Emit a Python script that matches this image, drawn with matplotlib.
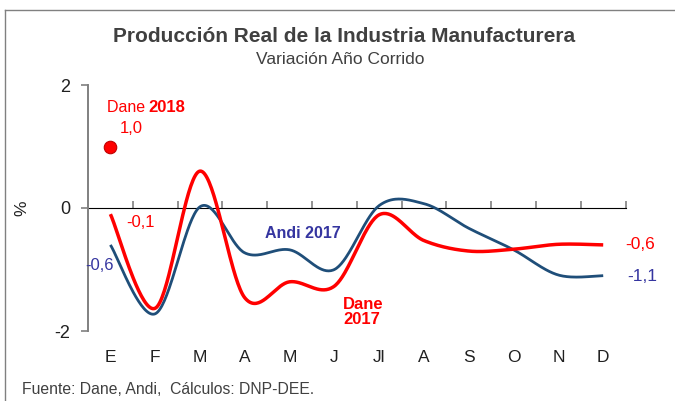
import matplotlib
matplotlib.use("Agg")
import matplotlib.pyplot as plt
from matplotlib.lines import Line2D
import numpy as np

plt.rcParams["font.family"] = ["Liberation Sans", "DejaVu Sans"]

MONTHS = ["E", "F", "M", "A", "M", "J", "Jl", "A", "S", "O", "N", "D"]
DANE_2017 = [-0.1, -1.63, 0.6, -1.46, -1.2, -1.27, -0.11, -0.53, -0.7, -0.67, -0.59, -0.6]
ANDI_2017 = [-0.6, -1.72, 0.02, -0.73, -0.68, -1.0, 0.04, 0.07, -0.33, -0.68, -1.09, -1.1]
DANE_2018 = [1.0]

RED = "#FF0000"
NAVY = "#1F4E79"
LABEL_BLUE = "#3535A0"
GREY = "#808080"
TEXT = "#404040"


def smooth(values, steps=40):
    # Excel-style smoothed line: Catmull-Rom segments as cubic Beziers
    y = np.asarray(values, dtype=float)
    x = np.arange(len(y), dtype=float)
    pts = np.column_stack([x, y])
    padded = np.vstack([pts[0], pts, pts[-1]])
    t = np.linspace(0.0, 1.0, steps)[:, None]
    out = []
    for i in range(len(pts) - 1):
        p0, p3 = pts[i], pts[i + 1]
        p1 = p0 + (padded[i + 2] - padded[i]) / 6.0
        p2 = p3 - (padded[i + 3] - padded[i + 1]) / 6.0
        seg = ((1 - t) ** 3) * p0 + 3 * ((1 - t) ** 2) * t * p1 + 3 * (1 - t) * t ** 2 * p2 + t ** 3 * p3
        out.append(seg if i == 0 else seg[1:])
    curve = np.vstack(out)
    return curve[:, 0], curve[:, 1]


fig = plt.figure(figsize=(6.75, 4.01), dpi=100)
ax = fig.add_axes((88 / 675, 1 - 331 / 401, (625.6 - 88) / 675, (331 - 85) / 401))

xs, ys = smooth(ANDI_2017)
ax.plot(xs, ys, color=NAVY, linewidth=2.0, solid_capstyle="butt", zorder=3)
xs, ys = smooth(DANE_2017)
ax.plot(xs, ys, color=RED, linewidth=2.5, solid_capstyle="butt", zorder=4)
ax.plot([0], DANE_2018, marker="o", markersize=9, color=RED,
        markeredgecolor="#C00000", markeredgewidth=0.8, linestyle="none", zorder=5)

ax.set_xlim(-0.5, len(MONTHS) - 0.5)
ax.set_ylim(-2, 2)
ax.set_yticks([-2, 0, 2])
ax.set_yticklabels(["-2", "0", "2"])
ax.set_xticks(range(len(MONTHS)))
ax.set_xticklabels(MONTHS)
ax.tick_params(axis="x", length=0, pad=14, labelsize=12.5, labelcolor="#202020")
ax.tick_params(axis="y", direction="out", length=5, width=1.2, color=GREY,
               pad=8, labelsize=13, labelcolor="#202020")
for side in ("top", "right", "bottom"):
    ax.spines[side].set_visible(False)
ax.spines["left"].set_color(GREY)
ax.spines["left"].set_linewidth(1.4)

# zero line with category separators
zero_axis = ax.secondary_xaxis(0.5)
zero_axis.spines["bottom"].set_color(GREY)
zero_axis.spines["bottom"].set_linewidth(1.4)
zero_axis.set_xticks(np.arange(0.5, len(MONTHS) + 0.5, 1.0))
zero_axis.set_xticklabels([])
zero_axis.tick_params(direction="out", length=5, width=1.2, color=GREY)

ax.set_ylabel("%", fontsize=12.5, color="#202020", labelpad=18)

ax.text(-0.07, 1.63, "Dane ", color=RED, fontsize=11.5, va="center", ha="left")
t1 = ax.texts[-1]
ax.annotate("2018", xy=(0.97, 0), xycoords=t1, va="bottom", ha="left",
            color=RED, fontsize=12, fontweight="bold")
ax.text(0.47, 1.3, "1,0", color=RED, fontsize=12, ha="center", va="center")
ax.text(0.67, -0.23, "-0,1", color=RED, fontsize=12, ha="center", va="center")
ax.text(-0.25, -0.93, "-0,6", color=LABEL_BLUE, fontsize=12, ha="center", va="center")
ax.text(4.29, -0.41, "Andi 2017", color=LABEL_BLUE, fontsize=11.5, fontweight="bold",
        ha="center", va="center")
ax.text(5.2, -1.69, "Dane\n2017", color=RED, fontsize=12, fontweight="bold",
        ha="left", va="center", linespacing=1.0)
ax.text(11.5, -0.6, "-0,6", color=RED, fontsize=12.5, ha="left", va="center")
ax.text(11.54, -1.12, "-1,1", color=LABEL_BLUE, fontsize=12.5, ha="left", va="center")

fig.text(344 / 675, 1 - 37 / 401, "Producción Real de la Industria Manufacturera",
         ha="center", va="center", fontsize=15, fontweight="bold", color=TEXT)
fig.text(340 / 675, 1 - 60 / 401, "Variación Año Corrido",
         ha="center", va="center", fontsize=12.5, color=TEXT)
fig.text(22 / 675, 1 - 389 / 401, "Fuente: Dane, Andi,  Cálculos: DNP-DEE.",
         ha="left", va="center", fontsize=11.3, color=TEXT)

# frame lines on the left and top edges
fig.add_artist(Line2D([5 / 675, 5 / 675], [0, 1 - 10 / 401], transform=fig.transFigure,
                      color=GREY, linewidth=1.0))
fig.add_artist(Line2D([5 / 675, 1], [1 - 10 / 401, 1 - 10 / 401], transform=fig.transFigure,
                      color=GREY, linewidth=1.0))

fig.savefig("out.png", dpi=100)
